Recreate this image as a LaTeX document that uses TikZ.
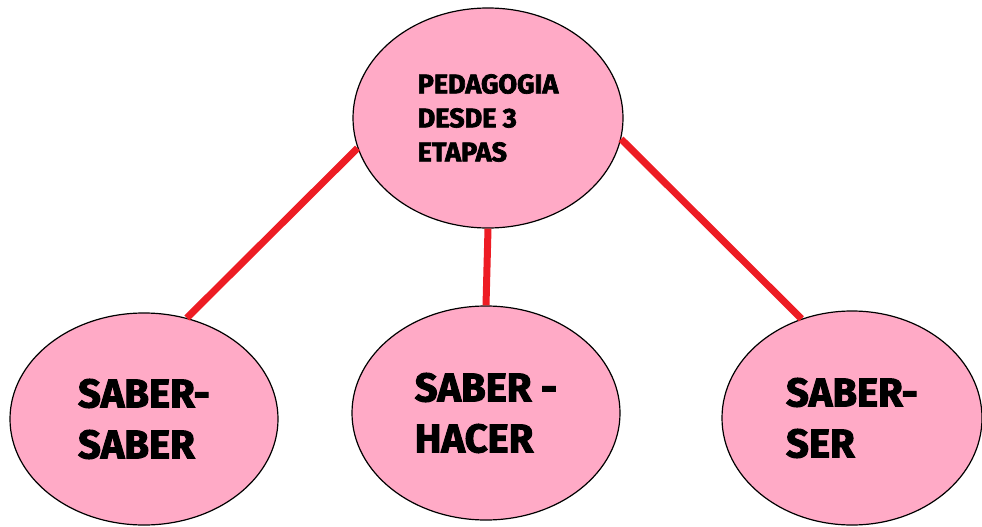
\documentclass[tikz,border=0pt]{standalone}
\usepackage{fontspec}
\setmainfont{Fira Sans}[BoldFeatures={FakeBold=2.5}]
\usetikzlibrary{shapes.geometric}
\definecolor{rosefill}{HTML}{FFAAC6}
\definecolor{linkred}{HTML}{ED1C24}
\tikzset{
  bubble/.style={ellipse, draw=black, line width=1.2pt, fill=rosefill, inner sep=0pt,
    align=left, text=black, font=\bfseries},
  toptext/.style={font=\fontsize{27}{34}\selectfont\bfseries},
  bottext/.style={font=\fontsize{40}{51}\selectfont\bfseries},
  link/.style={draw=linkred, line width=7pt}
}
\begin{document}
\begin{tikzpicture}[x=1pt,y=-1pt]
\useasboundingbox (0,0) rectangle (982,527);
\node[bubble, toptext, minimum width=270pt, minimum height=220pt] (top) at (488,118) {PEDAGOGIA\\DESDE 3\\ETAPAS};
\node[bubble, bottext, minimum width=268pt, minimum height=212pt] (bl) at (144,419) {SABER-\\SABER};
\node[bubble, bottext, minimum width=268pt, minimum height=214pt] (bm) at (486,413) {SABER -\\HACER};
\node[bubble, bottext, minimum width=260pt, minimum height=214pt] (br) at (852,418) {SABER-\\SER};
\draw[link] (top.193) -- (bl.67);
\draw[link] (top.south) -- (bm.north);
\draw[link] (top.351) -- (br.117);
\end{tikzpicture}
\end{document}
